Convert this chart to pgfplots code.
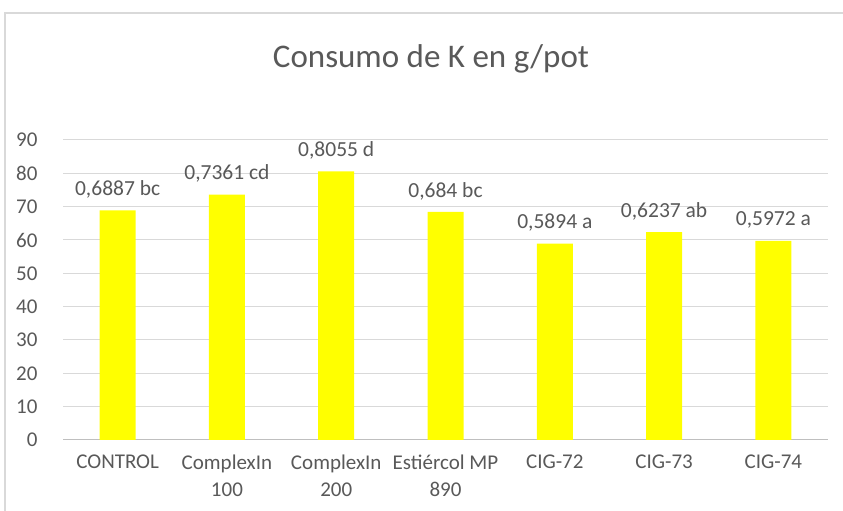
\documentclass[border=0pt]{standalone}
\usepackage{pgfplots}
\pgfplotsset{compat=1.18}
\usepackage{pgfplotstable}
\usepackage{fontspec}
\setmainfont{Carlito}
\definecolor{txt}{HTML}{595959}
\definecolor{gridc}{HTML}{D9D9D9}
\definecolor{axc}{HTML}{BFBFBF}
\definecolor{baryellow}{HTML}{FFFF00}
\pgfplotstableread[col sep=semicolon]{
x;y;lab
0;68.87;0,6887 bc
1;73.61;0,7361 cd
2;80.55;0,8055 d
3;68.40;0,684 bc
4;58.94;0,5894 a
5;62.37;0,6237 ab
6;59.72;0,5972 a
}\data
\begin{document}
\begin{tikzpicture}
\path[use as bounding box] (0,0) rectangle (843bp,511bp);
\fill[white] (0,0) rectangle (843bp,511bp);
\draw[gridc, line width=1.2bp] (5bp,0) -- (5bp,498bp) -- (843bp,498bp);
\node[txt, font=\fontsize{33bp}{40bp}\selectfont] at (431bp,452bp) {Consumo de K en g/pot};
\begin{axis}[
 at={(63bp,71bp)}, anchor=south west,
 scale only axis, width=765bp, height=300bp,
 xmin=-0.5, xmax=6.5, ymin=0, ymax=90,
 ytick={0,10,...,90},
 xtick={0,...,6},
 xticklabels={CONTROL,{ComplexIn\\100},{ComplexIn\\200},{Estiércol MP\\890},CIG-72,CIG-73,CIG-74},
 ymajorgrids, grid style={gridc, line width=1bp},
 axis x line*=bottom, axis y line*=left,
 x axis line style={axc, line width=1bp, -},
 y axis line style={draw=none},
 major tick length=0,
 tick label style={txt, font=\fontsize{21bp}{27.5bp}\selectfont},
 /pgf/number format/assume math mode=true,
 yticklabel style={xshift=-22bp},
 xticklabel style={align=center, yshift=-11bp},
 bar width=36bp,
 nodes near coords, point meta=explicit symbolic,
 nodes near coords style={txt, font=\fontsize{21.5bp}{24bp}\selectfont, anchor=center, yshift=21bp},
 clip=false,
]
\addplot[ybar, fill=baryellow, draw=none] table[x=x, y=y, meta=lab] {\data};
\end{axis}
\end{tikzpicture}
\end{document}
